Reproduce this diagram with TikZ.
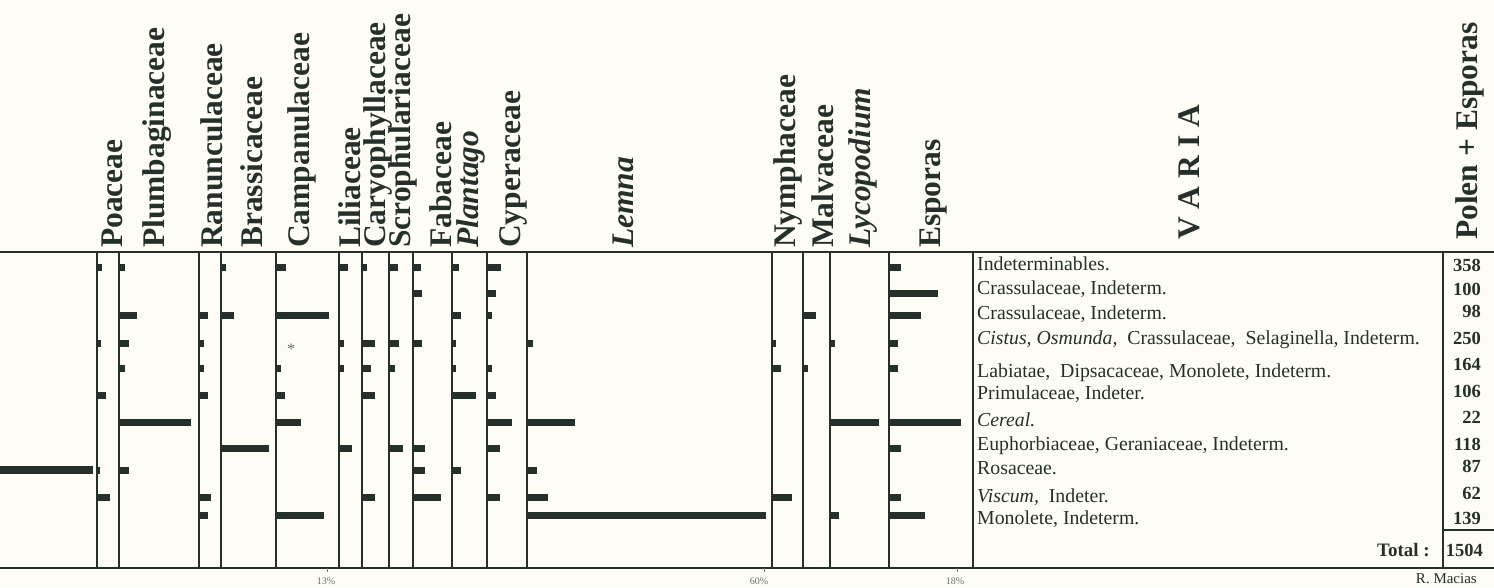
\documentclass[tikz,border=0pt]{standalone}
\usepackage{fontspec}
\setmainfont{Liberation Serif}
\definecolor{bgc}{HTML}{FDFDF6}
\definecolor{ink}{HTML}{26302A}
\definecolor{faint}{HTML}{6A706C}
\begin{document}
\begin{tikzpicture}[x=1pt,y=-1pt,
  hdr/.style={rotate=90,anchor=base west,inner sep=0pt,text=ink,font=\fontsize{31.5}{31.5}\selectfont\bfseries},
  hdri/.style={hdr,font=\fontsize{31.5}{31.5}\selectfont\bfseries\itshape},
  vtxt/.style={anchor=base west,inner sep=0pt,text=ink,font=\fontsize{19.8}{19.8}\selectfont},
  num/.style={anchor=base east,inner sep=0pt,text=ink,font=\fontsize{18.5}{18.5}\selectfont\bfseries},
  axl/.style={anchor=base,inner sep=0pt,text=faint,font=\fontsize{10}{10}\selectfont},
  colline/.style={draw=ink,line width=1.5pt},
  frame/.style={draw=ink,line width=2pt},
  bar/.style={fill=ink}]
\fill[bgc] (0,0) rectangle (1494,587);
\useasboundingbox (0,0) rectangle (1494,587);
% frame lines
\draw[frame] (0,252) -- (1494,252);
\draw[frame] (0,568) -- (1494,568);
\foreach \cx in {97,119,199,221,276,339,362,389,413,452,487,527,772,803,830,889,973,1443}
  \draw[colline] (\cx,252) -- (\cx,568);
\draw[frame] (1443,530) -- (1494,530);
% bars
\def\ry{{0,267,293,315,343,368,395,422,448,470,497,515}}
\foreach \cx/\bars in {
  97/{1/5,4/4,6/9,9/3,10/13},
  119/{1/6,3/18,4/10,5/6,7/72,9/10},
  199/{3/9,4/5,5/5,6/9,10/12,11/9},
  221/{1/5,3/13,8/48},
  276/{1/10,3/53,5/5,6/9,7/25,11/48},
  339/{1/9,4/5,5/5,8/13},
  362/{1/5,4/13,5/9,6/13,10/13},
  389/{1/9,4/10,5/6,8/14},
  413/{1/8,2/9,4/9,8/12,9/12,10/28},
  452/{1/7,3/9,4/4,5/4,6/24,9/9},
  487/{1/14,2/9,3/5,5/5,6/9,7/25,8/13,10/13},
  527/{4/6,7/48,9/10,10/21,11/239},
  772/{4/4,5/9,10/20},
  803/{3/13,5/5},
  830/{4/5,7/49,11/9},
  889/{1/12,2/49,3/32,4/9,5/9,7/72,8/12,10/12,11/36}}{
  \foreach \r/\w in \bars {
    \pgfmathsetmacro\yy{\ry[\r]}
    \fill[bar] (\cx,\yy-3.5) rectangle ++(\w,7);
  }
}
\fill[bar] (0,466) rectangle (93,474);
\node[text=faint,font=\fontsize{16}{16}\selectfont] (ast) at (291,349) {*};
% headers
\node[hdr]  (h1)  at (122,248) {Poaceae};
\node[hdr]  (h2)  at (164,248) {Plumbaginaceae};
\node[hdr]  (h3)  at (222,248) {Ranunculaceae};
\node[hdr]  (h4)  at (262,248) {Brassicaceae};
\node[hdr]  (h5)  at (309,248) {Campanulaceae};
\node[hdr]  (h6)  at (360,248) {Liliaceae};
\node[hdr]  (h7)  at (385,248) {Caryophyllaceae};
\node[hdr]  (h8)  at (410,248) {Scrophulariaceae};
\node[hdr]  (h9)  at (451,248) {Fabaceae};
\node[hdri] (h10) at (478,248) {Plantago};
\node[hdr]  (h11) at (520,248) {Cyperaceae};
\node[hdri] (h12) at (633,248) {Lemna};
\node[hdr]  (h13) at (795,248) {Nymphaceae};
\node[hdr]  (h14) at (833,248) {Malvaceae};
\node[hdri] (h15) at (870,248) {Lycopodium};
\node[hdr]  (h16) at (940,248) {Esporas};
\node[hdr]  (h17) at (1199,240) {V A R I A};
\node[hdr]  (h18) at (1477,240) {Polen + Esporas};
% varia texts
\node[vtxt] (t1)  at (977,270) {Indeterminables.};
\node[vtxt] (t2)  at (977,294) {Crassulaceae, Indeterm.};
\node[vtxt] (t3)  at (977,319) {Crassulaceae, Indeterm.};
\node[vtxt] (t4)  at (977,344) {\textit{Cistus, Osmunda,}\ \ Crassulaceae,\ \ Selaginella, Indeterm.};
\node[vtxt] (t5)  at (977,377) {Labiatae,\ \ Dipsacaceae, Monolete, Indeterm.};
\node[vtxt] (t6)  at (977,399) {Primulaceae, Indeter.};
\node[vtxt] (t7)  at (977,426) {\textit{Cereal.}};
\node[vtxt] (t8)  at (977,450) {Euphorbiaceae, Geraniaceae, Indeterm.};
\node[vtxt] (t9)  at (977,474) {Rosaceae.};
\node[vtxt] (t10) at (977,502) {\textit{Viscum,}\ \ Indeter.};
\node[vtxt] (t11) at (977,524) {Monolete, Indeterm.};
% numbers
\node[num] (n1)  at (1481,271) {358};
\node[num] (n2)  at (1481,295) {100};
\node[num] (n3)  at (1481,317) {98};
\node[num] (n4)  at (1481,344) {250};
\node[num] (n5)  at (1481,370) {164};
\node[num] (n6)  at (1481,397) {106};
\node[num] (n7)  at (1481,423) {22};
\node[num] (n8)  at (1481,450) {118};
\node[num] (n9)  at (1481,472) {87};
\node[num] (n10) at (1481,499) {62};
\node[num] (n11) at (1481,524) {139};
\node[num] (tot) at (1483,556) {1504};
\node[num,font=\fontsize{19}{19}\selectfont\bfseries] (totl) at (1430,556) {Total :};
\node[anchor=base east,inner sep=0pt,text=ink,font=\fontsize{15}{15}\selectfont] (auth) at (1477,583) {R. Macias};
% axis ticks
\coordinate (k1) at (327,568); \coordinate (k2) at (764,568); \coordinate (k3) at (957,568);
\foreach \k in {k1,k2,k3} \draw[draw=faint,line width=0.8pt] (\k) -- ++(0,4);
\node[axl] (a1) at (326,584) {13\%};
\node[axl] (a2) at (759,584) {60\%};
\node[axl] (a3) at (955,584) {18\%};
\end{tikzpicture}
\end{document}
